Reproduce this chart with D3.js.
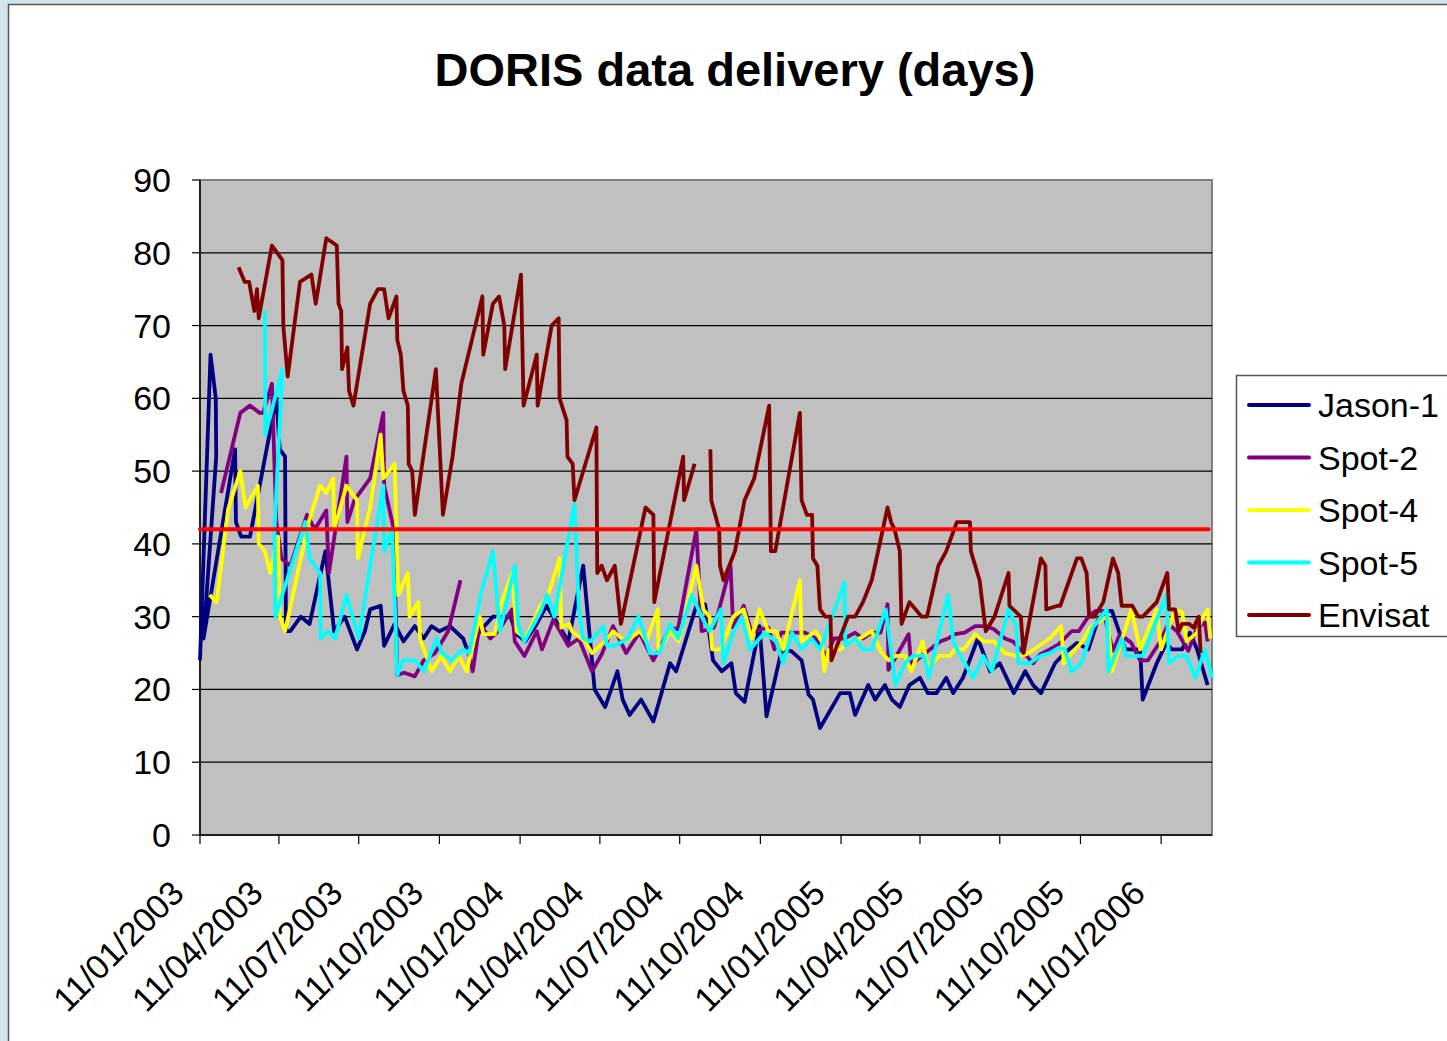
<!DOCTYPE html>
<html>
<head>
<meta charset="utf-8">
<script src="https://cdn.jsdelivr.net/npm/d3@7"></script>
<style>
body { margin: 0; overflow: hidden; background: #fff; }
svg { display: block; }
text { font-family: "Liberation Sans", Arial, sans-serif; fill: #000; }
</style>
</head>
<body>
<svg id="chart" width="1447" height="1041"></svg>
<script>
// DORIS data delivery (days) - points are [days since startDate, delay in days]
const startDate = "2003-01-11";
const endDay = 1154;

const jason1 = [[0,24],[12,66],[18,60],[18.5,52],[4,27],[40,53],[41,43],[47,41],[57,41],[87,60],[91,53],[97,52],[98,28],
	[103,28],[115,30],[125,29],[143,39],[153,28],[165,30],[179,25.5],[188,28],[194,31],[206,31.5],[210,26],[222,29],
	[232,26.6],[245,28.7],[255,27],[264,28.7],[273,28],[285,28.7],[300,27],[306,25],[319,28],[334,30],[354,30],
	[361,27.6],[371,26.6],[384,29],[395,31.5],[403,30],[420,26.6],[437,37],[450,20],[462,17.6],[476,22.5],[482,18.6],
	[490,16.5],[503,18.6],[517,15.6],[536,23.6],[543,22.5],[566,31.5],[576,31.7],[585,24],[595,22.5],[606,23.6],
	[611,19.5],[621,18.3],[638,28.7],[646,16.3],[663,25.3],[674,25.3],[686,24],[694,19.3],[699,18.6],[707,14.7],
	[730,19.5],[741,19.5],[747,16.5],[762,20.6],[770,18.6],[781,20.6],[789,18.6],[798,17.6],[809,20.6],[821,21.6],
	[830,19.5],[840,19.5],[851,21.6],[859,19.5],[870,21.6],[887,27],[901,22.5],[912,23.6],[928,19.5],[941,22.5],
	[950,20.6],[959,19.5],[975,23.6],[986,25],[1000,26.4],[1013,25.5],[1024,29.6],[1034,30.8],[1040,30.8],[1055,25.5],
	[1072,25.5],[1075,18.6],[1091,23.6],[1102,26.4],[1108,25.5],[1120,25.5],[1129,27.8],[1137,25.5],[1149,20.6]];

const spot2 = [[24,47],[46,58],[57,59],[68,58],[72,58],[82,62],[87,43],[93,38],[103,37],[122,44],[131,42],[144,44.6],
	[147,36],[167,52],[168,43],[176,46],[194,49],[209,58],[210,48],[221,42],[225,22],[233,22.3],[245,21.8],[255,24],
	[268,25],[283,28],[297,35],null,[305,26],[311,22.5],[319,29],[331,27],[340,28],[356,31],[359,26.6],[370,24.6],
	[384,28],[390,25.5],[403,29.6],[420,26],[432,27],[447,22.5],[458,24.8],[471,28.7],[486,25],[501,27.8],[517,24],
	[536,28.5],[545,28.3],[566,42],[572,28],[586,28.5],[592,31],[605,37],[608,28.5],[620,31.5],[629,27.8],[640,28.3],
	[648,28.5],[655,25.5],[663,27.8],[677,27.8],[690,27.8],[702,27],[714,24.6],[723,27],[735,27],[747,27.8],[756,27],
	[766,27.8],[776,27.8],[784,31.7],[785,22.7],[796,25],[808,27.6],[811,23.4],[823,24.6],[844,26.6],[853,27],
	[861,27.6],[872,27.8],[884,28.7],[895,28.7],[905,28.3],[918,27],[927,26.6],[941,24.8],[950,23.6],[958,24.8],
	[969,25.5],[979,26.2],[994,28],[1002,28],[1013,30],[1021,30.8],[1030,30.8],[1041,25.3],[1049,27.6],[1062,26.4],
	[1072,24],[1081,24],[1095,26.6],[1104,29],[1114,28],[1127,25.3],[1137,28.5],[1146,29.2],[1149,26.6]];

const spot4 = [[11,33],[19,32],[32,44.7],[46,50],[52,45],[66,48],[67,40],[74,39],[80,36],[89,41],[91,30],[97,28],
	[124,43],[137,48],[144,47],[152,49],[153,42],[167,48],[179,46],[180,38],[194,45],[206,55],[209,49],[222,51],
	[226,33],[237,36],[239,30],[249,32],[251,27],[264,22.5],[275,24.6],[285,22.5],[295,24.6],[304,22.5],[319,30],
	[323,27.6],[336,27.6],[344,32],[356,36],[361,28],[371,27],[388,31.5],[397,33],[410,38],[412,28.5],[421,29],
	[424,28],[439,26.6],[447,25],[462,26.6],[471,28],[485,26.6],[502,28],[509,26.6],[522,31],[523,25],[536,28],
	[546,26.6],[566,37],[574,31],[581,30],[584,25.5],[594,25.5],[608,30],[620,31],[629,27],[638,31],[648,28],[657,28],
	[665,25.5],[684,35],[686,26.6],[702,28],[709,26.6],[712,22.5],[717,25.5],[730,25.5],[741,26.6],[752,27],[766,28],
	[776,25.3],[785,24],[793,24.6],[804,24.6],[811,22.5],[824,26.6],[830,23],[843,24.6],[855,24.6],[861,25.5],
	[871,25.5],[884,27.6],[893,26.6],[905,26.6],[918,25],[931,24.6],[942,24.8],[953,25.7],[969,27],[982,28.7],
	[985,23.6],[994,25],[1005,26.4],[1015,28.5],[1028,29.6],[1035,30],[1040,22.5],[1062,31],[1072,25.5],[1091,31],
	[1096,25.5],[1112,31],[1120,30.6],[1125,26.6],[1137,27.8],[1142,29.6],[1149,31],[1152,27]];

const spot5 = [[74,72],[74.5,55],[94,64],[85,42],[86,30],[120,43],[125,38],[137,36],[137.5,27],[146,28],[154,27],
	[167,33],[181,27],[194,37],[209,48],[210,39],[219,42],[225,22],[232,24],[245,24],[255,22.5],[270,27],[276,25],
	[287,24],[300,25.5],[307,25],[321,33.5],[334,39],[342,28],[359,37],[363,28.7],[370,26.6],[388,30.6],[396,33],
	[404,30],[427,45.5],[432,31],[437,27],[445,26.6],[460,28.7],[464,26],[473,26],[488,27],[500,30],[513,25],[524,25],
	[536,29],[545,27],[561,33],[572,30],[581,28],[594,31],[597,23.6],[608,27.8],[618,30],[627,25.5],[644,27.8],
	[657,26.6],[665,23.6],[675,27.8],[686,25.5],[697,27],[707,25.5],[735,34.7],[736,26],[747,27],[756,25.5],
	[766,25.5],[776,29],[782,31],[793,20.6],[804,23.6],[813,24.6],[826,24.6],[831,21.6],[853,33],[859,26.6],
	[867,24.6],[882,21.6],[893,24.6],[903,22.5],[922,31],[931,28.7],[933,23.6],[946,23.6],[958,24.6],[969,25],
	[979,25.7],[986,25.5],[994,22.5],[1005,23.6],[1018,28.5],[1034,31],[1036,22.5],[1051,27],[1056,24.6],[1075,24.6],
	[1102,33],[1105,23.6],[1116,24.6],[1125,24.6],[1135,21.6],[1146,25.5],[1154,21.6]];

const envisat = [[44,78],[51,76],[56,76],[62,72],[65,75],[67,71],[82,81],[94,79],[95,70],[100,63],[114,76],[127,77],
	[132,73],[144,82],[156,81],[158,73],[161,72],[162,64],[168,67],[170,61],[175,59],[194,73],[203,75],[210,75],
	[215,71],[224,74],[225,68],[229,66],[232,61],[237,59],[238,51],[242,50],[245,44],[269,64],[277,44],[288,52],
	[298,62],[310,68],[322,74],[323,66],[334,73],[341,74],[347,70],[348,64],[366,77],[369,59],[384,66],[385,59],
	[401,70],[409,71],[410,60],[418,57],[419,52],[425,51],[427,46],[452,56],[453,36],[458,37],[464,35],[473,37],
	[480,29],[508,45],[517,44],[518,32],[551,52],[552,46],[564,51],null,[582,53],[583,46],[592,42],[593,37],[597,35],
	[610,39],[621,46],[632,49],[649,59],[651,39],[656,39],[684,58],[686,46],[692,44],[698,44],[699,38],[704,37],
	[707,31],[713,30],[719,30],[720,24],[739,30],[747,30],[756,32],[766,35],[776,40.5],[784,45],[788,43],[792,42],
	[798,39],[800,29],[809,32],[823,30],[829,30],[842,37],[851,39],[863,43],[878,43],[879,39],[889,35],[896,28],
	[906,30],[922,36],[923,31.5],[936,30],[939,25],[959,38],[964,37],[965,31],[978,31.5],[981,31.5],[1000,38],
	[1005,38],[1011,36],[1014,30],[1020,30],[1030,32],[1041,38],[1047,36],[1051,31.5],[1063,31.5],[1070,30],
	[1075,30],[1091,32],[1103,36],[1105,31],[1112,31],[1116,28],[1120,29],[1128,29],[1133,28.5],[1139,30],[1141,25]];

// 42 day target line
const target = [[0,42],[1150,42]];

const seriesNames = ["Jason-1", "Spot-2", "Spot-4", "Spot-5", "Envisat"];
const seriesData = [jason1, spot2, spot4, spot5, envisat];
const tickLabels = ["11/01/2003","11/04/2003","11/07/2003","11/10/2003","11/01/2004","11/04/2004","11/07/2004",
	"11/10/2004","11/01/2005","11/04/2005","11/07/2005","11/10/2005","11/01/2006"];
const yTickValues = [0,10,20,30,40,50,60,70,80,90];

const colors = ["#000080", "#800080", "#FFFF00", "#00FFFF", "#800000"];

const svg = d3.select("#chart");
const W = 1447, H = 1041;
const plot = {left: 200, right: 1212, top: 180, bottom: 835};

const start = d3.utcParse("%Y-%m-%d")(startDate);
const toDate = d => new Date(start.getTime() + d * 864e5);
const parseTick = d3.utcParse("%d/%m/%Y");

const x = d3.scaleUtc().domain([start, toDate(endDay)]).range([plot.left, plot.right]);
const y = d3.scaleLinear().domain([0, 90]).range([plot.bottom, plot.top]);

// slide background + chart area
svg.append("rect").attr("width", W).attr("height", H).attr("fill", "#d3e5ec");
svg.append("rect").attr("x", 8.5).attr("y", 4.5).attr("width", W).attr("height", H)
	.attr("fill", "#fff").attr("stroke", "#555").attr("stroke-width", 1.5);

// title
svg.append("text").text("DORIS data delivery (days)")
	.attr("x", 735).attr("y", 86)
	.attr("text-anchor", "middle")
	.attr("font-size", 47).attr("font-weight", "bold");

// plot area
svg.append("rect")
	.attr("x", plot.left).attr("y", plot.top)
	.attr("width", plot.right - plot.left).attr("height", plot.bottom - plot.top)
	.attr("fill", "#C0C0C0").attr("stroke", "#808080").attr("stroke-width", 2);

// gridlines
svg.append("g").selectAll("line").data(yTickValues.filter(v => v > 0 && v < 90)).join("line")
	.attr("x1", plot.left).attr("x2", plot.right)
	.attr("y1", d => y(d)).attr("y2", d => y(d))
	.attr("stroke", "#000").attr("stroke-width", 1.2);

// y axis
const yAxis = svg.append("g");
yAxis.append("line").attr("x1", plot.left).attr("x2", plot.left)
	.attr("y1", plot.top).attr("y2", plot.bottom).attr("stroke", "#000").attr("stroke-width", 1.5);
yAxis.selectAll(".tick").data(yTickValues).join("line")
	.attr("x1", plot.left - 8).attr("x2", plot.left)
	.attr("y1", d => y(d)).attr("y2", d => y(d))
	.attr("stroke", "#000").attr("stroke-width", 1.2);
yAxis.selectAll("text").data(yTickValues).join("text")
	.text(d => d)
	.attr("x", 171).attr("y", d => y(d) + 12)
	.attr("text-anchor", "end")
	.attr("font-size", 34);

// x axis
const xAxis = svg.append("g");
xAxis.append("line").attr("x1", plot.left).attr("x2", plot.right)
	.attr("y1", plot.bottom).attr("y2", plot.bottom).attr("stroke", "#000").attr("stroke-width", 1.5);
xAxis.selectAll("line.tick").data(tickLabels).join("line")
	.attr("class", "tick")
	.attr("x1", d => x(parseTick(d))).attr("x2", d => x(parseTick(d)))
	.attr("y1", plot.bottom).attr("y2", plot.bottom + 9)
	.attr("stroke", "#000").attr("stroke-width", 1.2);
xAxis.selectAll("text").data(tickLabels).join("text")
	.text(d => d)
	.attr("transform", d => "translate(" + (x(parseTick(d)) - 14) + "," + 895 + ") rotate(-45)")
	.attr("text-anchor", "end")
	.attr("font-size", 34);

// series lines
const line = d3.line()
	.defined(d => d !== null)
	.x(d => x(toDate(d[0])))
	.y(d => y(d[1]));

const lines = svg.append("g").attr("fill", "none").attr("stroke-linejoin", "round");
seriesData.forEach((s, i) => {
	lines.append("path")
		.attr("d", line(s))
		.attr("stroke", colors[i])
		.attr("stroke-width", 3.8);
});
lines.append("path")
	.attr("d", line(target))
	.attr("stroke", "#FF0000")
	.attr("stroke-width", 4)
	.attr("stroke-linecap", "round");

// legend
const legend = svg.append("g").attr("id", "legend");
legend.append("rect")
	.attr("x", 1236.5).attr("y", 375.5).attr("width", 230).attr("height", 261)
	.attr("fill", "#fff").attr("stroke", "#555").attr("stroke-width", 1.5);
seriesNames.forEach((name, i) => {
	const ly = 405 + i * 52.5;
	legend.append("line")
		.attr("x1", 1249).attr("x2", 1309)
		.attr("y1", ly).attr("y2", ly)
		.attr("stroke", colors[i]).attr("stroke-width", 4).attr("stroke-linecap", "round");
	legend.append("text").text(name)
		.attr("x", 1318).attr("y", ly + 12)
		.attr("font-size", 34);
});
</script>
</body>
</html>
